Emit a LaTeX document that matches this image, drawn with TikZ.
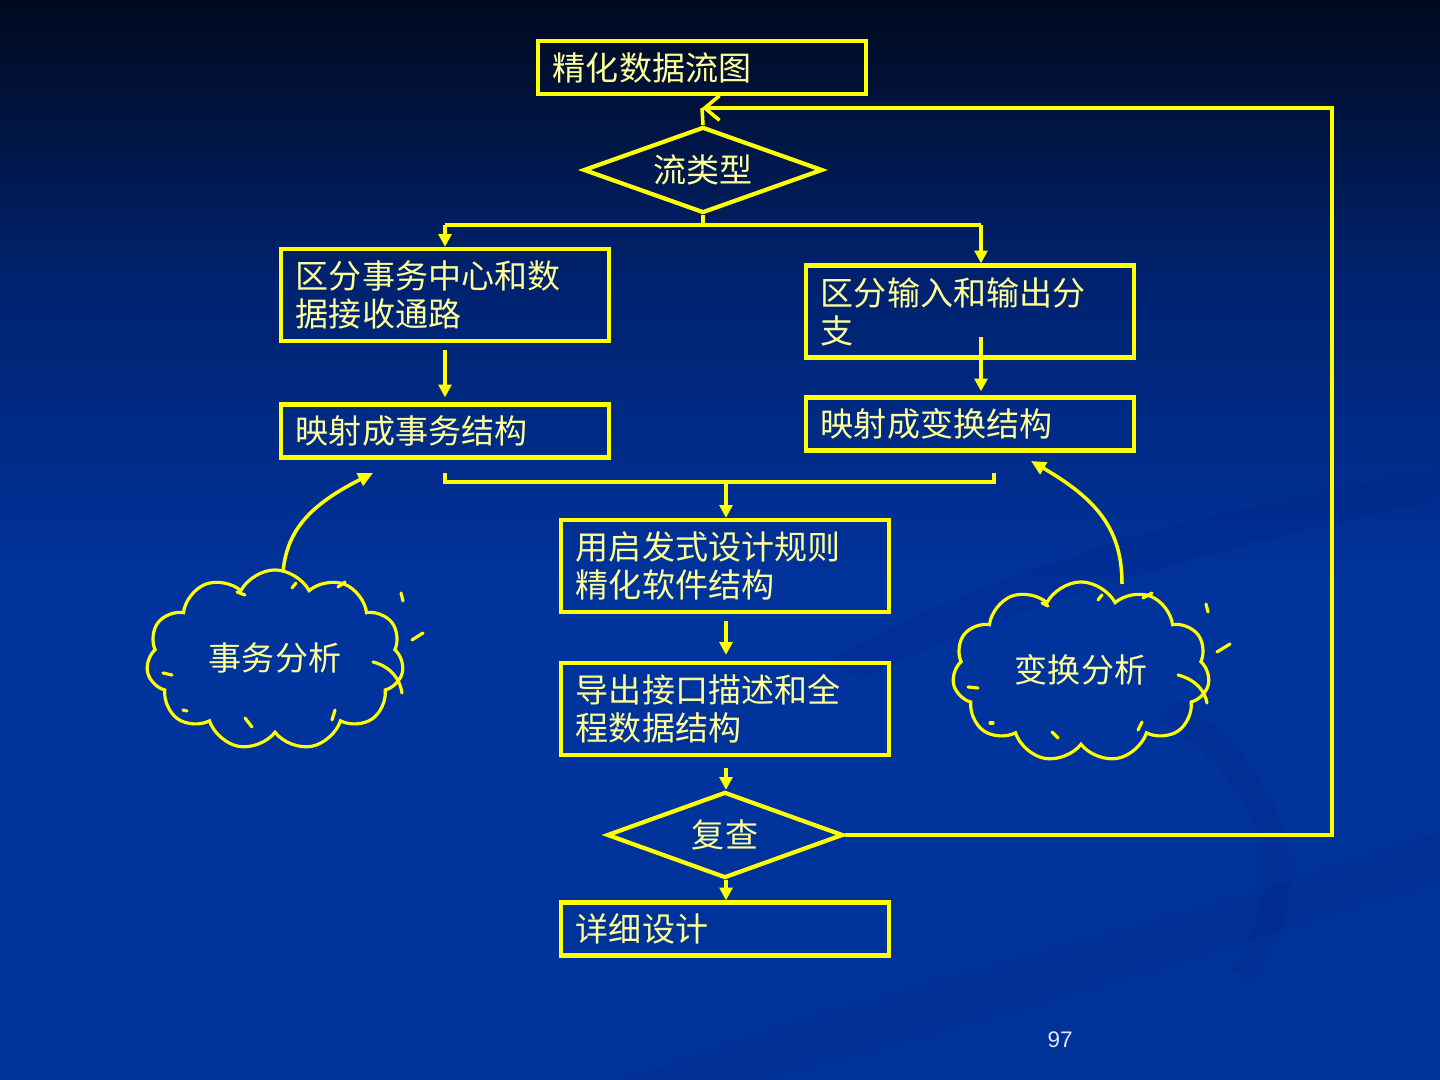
\documentclass[tikz,border=0pt]{standalone}
\usepackage{fontspec}
\setmainfont{Liberation Sans}
\newfontfamily\cjk{Noto Sans CJK SC}
\usetikzlibrary{shapes.geometric,shapes.symbols,arrows.meta}
\definecolor{ln}{HTML}{FFFF00}
\definecolor{tx}{HTML}{FFFF99}
\definecolor{bgbot}{HTML}{003399}
\definecolor{bgmid}{HTML}{00339C}
\definecolor{bgupp}{HTML}{00226F}
\definecolor{bgtop}{HTML}{000A1E}
\pgfdeclareverticalshading{bgsh}{100bp}{color(0bp)=(bgbot); color(25bp)=(bgbot); color(48bp)=(bgmid); color(62bp)=(bgupp); color(75bp)=(bgtop); color(100bp)=(bgtop)}
\tikzset{
  cjkfont/.style={font=\cjk\fontsize{9.4pt}{10.8pt}\selectfont, text=tx},
  box/.style={cjkfont, draw=ln, line width=1.2pt, rectangle, inner xsep=0.15cm, inner ysep=0pt,
    text width=2.98cm, align=left},
  onebox/.style={box, minimum height=0.53cm},
  twobox/.style={box, minimum height=0.92cm},
  dia/.style={cjkfont, diamond, draw=ln, line width=1.2pt, inner sep=0pt, aspect=2.78},
  cloudst/.style={cjkfont, cloud, cloud puffs=11, cloud puff arc=125, draw=ln, line width=0.9pt,
    inner sep=0pt, aspect=1.44, minimum width=2.57cm, minimum height=1.80cm},
  conn/.style={draw=ln, line width=1pt},
  arr/.style={conn, -{Triangle[length=3.6pt,width=3.6pt]}},
  barb/.style={conn, -{Straight Barb[length=4.2pt,width=7pt,line width=1pt]}},
  carr/.style={draw=ln, line width=1pt, -{Triangle[length=4.2pt,width=3.8pt]}},
  tick/.style={draw=ln, line width=0.9pt, line cap=round},
}
\begin{document}
\begin{tikzpicture}[x=0.01cm,y=-0.01cm]
\useasboundingbox (0,0) rectangle (1440,1080);
\shade[shading=bgsh] (0,0) rectangle (1440,1080);
% faint background swooshes
\begin{scope}[opacity=0.08]
\fill[black!60!blue] (830,660) .. controls (1000,560) and (1250,500) .. (1440,470)
  -- (1440,500) .. controls (1250,540) and (1020,600) .. (860,680) -- cycle;
\fill[black!60!blue] (620,1080) .. controls (900,980) and (1200,920) .. (1440,830)
  -- (1440,880) .. controls (1200,960) and (950,1030) .. (760,1080) -- cycle;
\fill[black!60!blue] (1180,700) .. controls (1300,780) and (1320,900) .. (1250,980)
  -- (1230,970) .. controls (1290,890) and (1270,790) .. (1160,720) -- cycle;
\end{scope}

% nodes
\node[onebox] (n1) at (702,67.5) {精化数据流图};
\node[dia, minimum width=2.39cm, minimum height=0.86cm] (d1) at (703,170) {流类型};
\node[twobox] (n2) at (445,295) {区分事务中心和数\\据接收通路};
\node[twobox] (n3) at (970,311.5) {区分输入和输出分\\支};
\node[onebox] (n4) at (445,431) {映射成事务结构};
\node[onebox] (n5) at (970,424) {映射成变换结构};
\node[twobox] (n6) at (725,566) {用启发式设计规则\\精化软件结构};
\node[twobox] (n7) at (725,709) {导出接口描述和全\\程数据结构};
\node[dia, minimum width=2.36cm, minimum height=0.86cm] (d2) at (725,835) {复查};
\node[onebox] (n8) at (725,929) {详细设计};
\node[cloudst] (c1) at (275,660) {\raisebox{0.07cm}{事务分析}};
\node[cloudst] (c2) at (1081,672) {\raisebox{0.07cm}{变换分析}};
\node[font=\fontsize{6.4pt}{7.5pt}\selectfont, text=white!90!blue] (pg) at (1060,1040) {97};

% coordinates
\coordinate (fb) at (702,108);
\coordinate (fbA) at (1332,835);
\coordinate (fbB) at (1332,108);
\coordinate (sM) at (703,225);
\coordinate (sL) at (445,225);
\coordinate (sR) at (981,225);
\coordinate (r3) at (981,337);
\coordinate (mL) at (445,473);
\coordinate (mL2) at (445,482);
\coordinate (mR2) at (994,482);
\coordinate (mR) at (994,473);
\coordinate (mM) at (726,482);
\coordinate (t1) at (373,473);
\coordinate (s1) at (283,572);
\coordinate (t2) at (1031,461);
\coordinate (s2) at (1122,584);

% connectors
\draw[barb] (d2.east) -- (fbA) -- (fbB) -- (fb);
\draw[conn] (fb) -- (d1.north);
\draw[conn] (d1.south) -- (sM);
\draw[conn] (sL) -- (sR);
\draw[arr] (sL) -- (n2.north);
\draw[arr] (sR) -- (sR |- n3.north);
\draw[arr, shorten <=0.07cm, shorten >=0.05cm] (n2.south) -- (n4.north);
\draw[arr, shorten >=0.04cm] (r3) -- (r3 |- n5.north);
\draw[conn] (mL) -- (mL2) -- (mR2) -- (mR);
\draw[arr] (mM) -- (mM |- n6.north);
\draw[arr, shorten <=0.07cm, shorten >=0.06cm] (n6.south -| mM) -- (n7.north -| mM);
\draw[arr, shorten <=0.11cm] (n7.south -| mM) -- (d2.north -| mM);
\draw[arr] (d2.south -| mM) -- (n8.north -| mM);

% cloud arrows
\draw[carr] (s1) .. controls (287,530) and (310,505) .. (t1);
\draw[carr] (s2) .. controls (1122,530) and (1098,500) .. (t2);

% cloud 1 ticks
\draw[tick] (237,592) -- (245,595);
\draw[tick] (292,588) -- (296,583);
\draw[tick] (338,587) -- (345,582);
\draw[tick] (401,593) -- (403,601);
\draw[tick] (412,640) -- (423,633);
\draw[tick] (373,662) .. controls (392,667) and (400,680) .. (402,693);
\draw[tick] (163,673) -- (172,675);
\draw[tick] (183,710) -- (187,711);
\draw[tick] (245,718) -- (252,727);
\draw[tick] (332,720) -- (335,710);

% cloud 2 ticks
\draw[tick] (1042,603) -- (1048,606);
\draw[tick] (1098,600) -- (1102,595);
\draw[tick] (1143,598) -- (1152,593);
\draw[tick] (1206,604) -- (1208,612);
\draw[tick] (1217,652) -- (1230,644);
\draw[tick] (1178,675) .. controls (1197,680) and (1205,692) .. (1207,703);
\draw[tick] (968,687) -- (978,688);
\draw[tick] (990,723) -- (993,723);
\draw[tick] (1052,732) -- (1058,738);
\draw[tick] (1138,730) -- (1142,722);
\end{tikzpicture}
\end{document}
